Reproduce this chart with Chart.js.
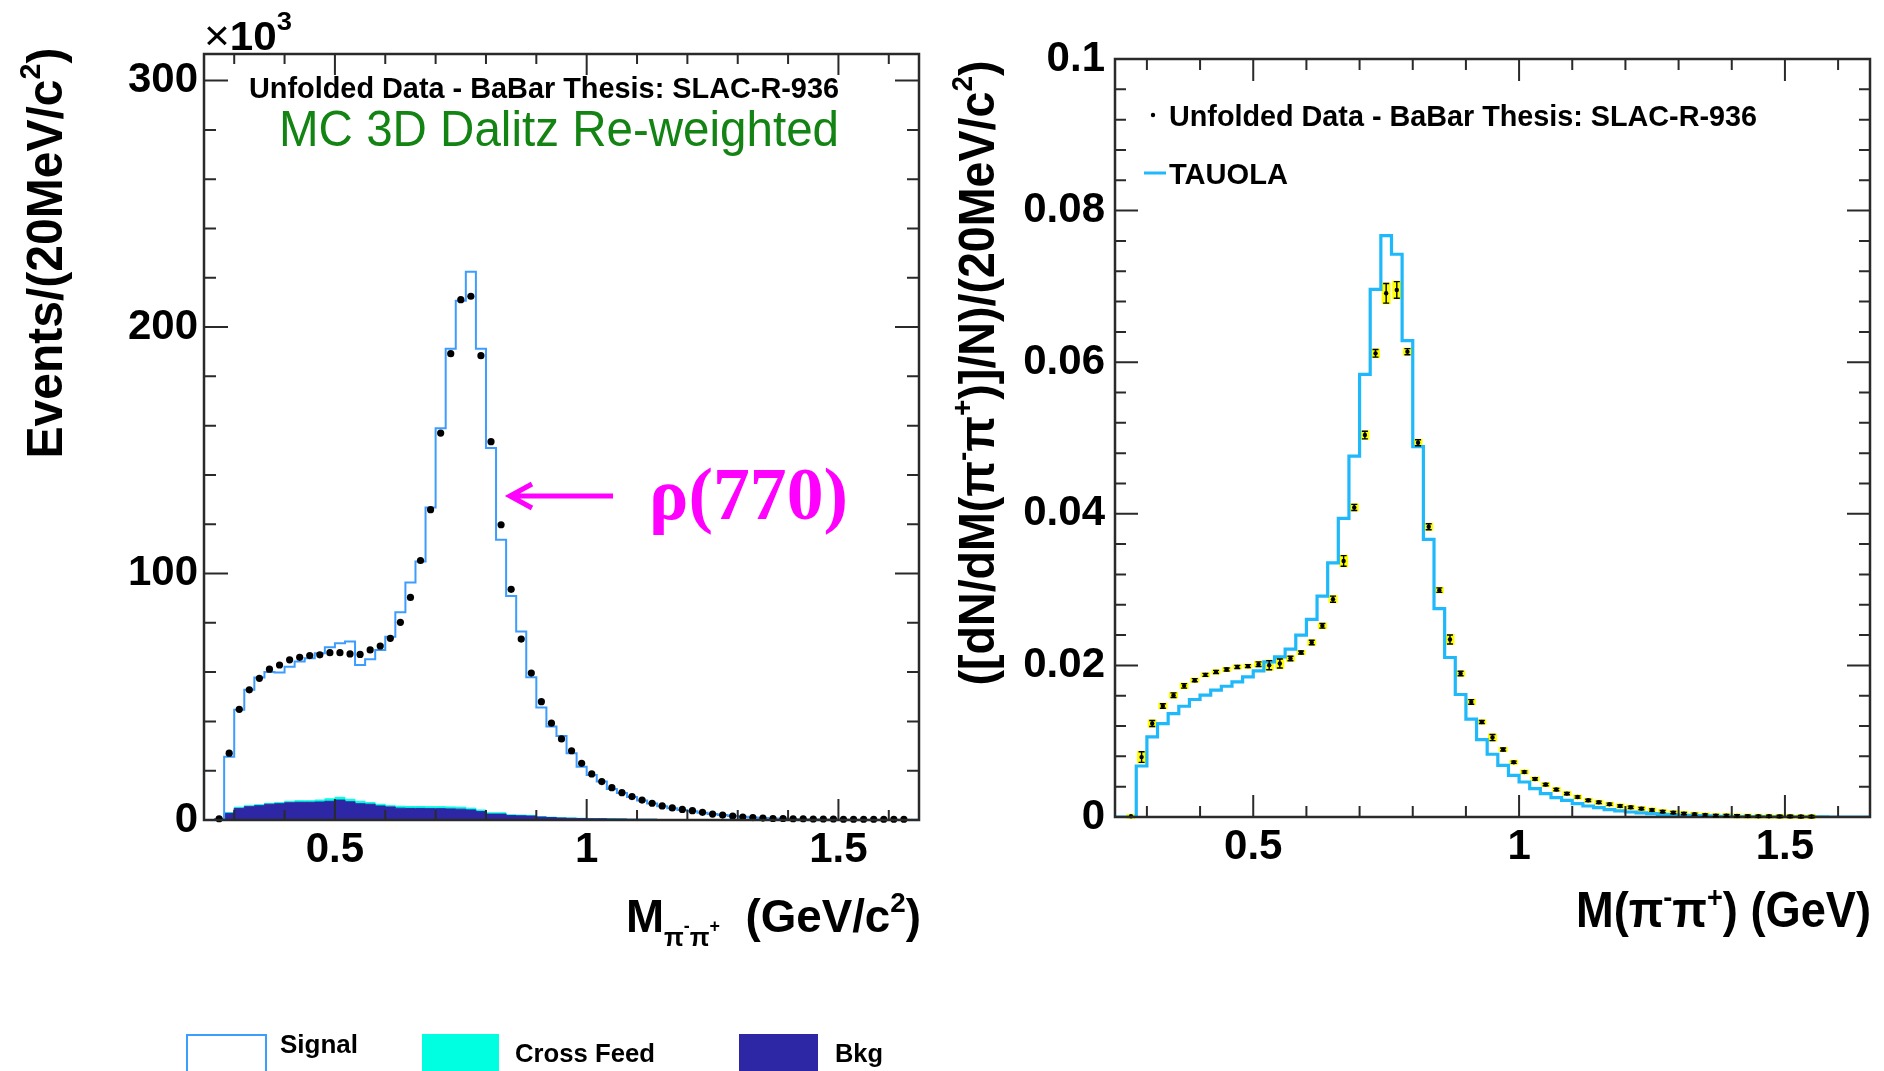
<!DOCTYPE html>
<html>
<head>
<meta charset="utf-8">
<title>M(pi- pi+) spectra</title>
<script src="https://cdn.jsdelivr.net/npm/chart.js@4.4.1/dist/chart.umd.min.js"></script>
<style>
  html, body { margin: 0; padding: 0; background: #fff; }
  body { width: 1884px; height: 1071px; position: relative; overflow: hidden; }
  canvas { position: absolute; top: 0; }
  #leftChart { left: 0; }
  #rightChart { left: 942px; }
</style>
</head>
<body>
<canvas id="leftChart" width="942" height="1071"></canvas>
<canvas id="rightChart" width="942" height="1071"></canvas>
<script>
// bin centres, GeV (20 MeV bins)
const massBins = [
  0.27, 0.29, 0.31, 0.33, 0.35, 0.37, 0.39, 0.41, 0.43, 0.45,
  0.47, 0.49, 0.51, 0.53, 0.55, 0.57, 0.59, 0.61, 0.63, 0.65,
  0.67, 0.69, 0.71, 0.73, 0.75, 0.77, 0.79, 0.81, 0.83, 0.85,
  0.87, 0.89, 0.91, 0.93, 0.95, 0.97, 0.99, 1.01, 1.03, 1.05,
  1.07, 1.09, 1.11, 1.13, 1.15, 1.17, 1.19, 1.21, 1.23, 1.25,
  1.27, 1.29, 1.31, 1.33, 1.35, 1.37, 1.39, 1.41, 1.43, 1.45,
  1.47, 1.49, 1.51, 1.53, 1.55, 1.57, 1.59, 1.61, 1.63
];
const binWidth = 0.02;

// left panel, events x10^3
const leftData = [
  0.5, 27.1, 44.9, 52.8, 57.5, 61.2, 62.9, 65.0, 66.0, 66.7,
  67.0, 67.9, 67.9, 67.4, 67.2, 69.0, 70.6, 73.7, 80.2, 90.3,
  105.3, 125.9, 157.0, 189.2, 211.1, 212.5, 188.4, 153.5, 119.8, 93.6,
  73.4, 59.6, 48.0, 39.3, 32.9, 28.1, 23.0, 18.7, 15.6, 13.1,
  11.1, 9.5, 8.1, 6.8, 5.7, 4.9, 4.3, 3.8, 3.1, 2.4,
  2.0, 1.6, 1.2, 1.0, 0.8, 0.6, 0.6, 0.5, 0.5, 0.4,
  0.4, 0.4, 0.3, 0.3, 0.3, 0.3, 0.3, 0.3, 0.3
];
const leftSignal = [
  0, 25.7, 44.7, 52.8, 57.8, 60.0, 59.8, 62.2, 64.3, 65.6,
  67.7, 70.1, 71.7, 72.4, 62.9, 65.2, 69.0, 74.4, 84.3, 96.4,
  104.9, 126.8, 159.0, 191.2, 210.7, 222.4, 191.2, 150.9, 113.7, 90.9,
  76.5, 57.9, 45.6, 37.9, 34.1, 27.1, 21.6, 18.3, 15.6, 12.6,
  11.0, 9.3, 7.9, 6.7, 5.6, 4.8, 4.1, 3.5, 2.9, 2.4,
  2.0, 1.6, 1.3, 1.0, 0.8, 0.6, 0.5, 0.4, 0.3, 0.3,
  0.2, 0.2, 0.2, 0.1, 0.1, 0.1, 0.1, 0.1, 0.1
];
const leftBkg = [
  0.4, 2.7, 4.7, 5.4, 5.8, 6.4, 6.6, 7.0, 7.2, 7.2,
  7.3, 7.6, 8.1, 7.4, 6.6, 6.4, 5.7, 5.3, 4.8, 4.7,
  4.7, 4.6, 4.6, 4.5, 4.4, 4.1, 3.4, 2.4, 2.4, 1.8,
  1.7, 1.6, 1.2, 1.0, 0.8, 0.7, 0.6, 0.5, 0.5, 0.4,
  0.4, 0.3, 0.3, 0.3, 0.2, 0.2, 0.2, 0.2, 0.2, 0.2,
  0.1, 0.1, 0.1, 0.1, 0.1, 0.1, 0.1, 0.1, 0.1, 0.1,
  0.1, 0.1, 0.1, 0.1, 0.1, 0.1, 0.1, 0.1, 0.1
];
const leftCrossFeed = [
  0, 0.3, 0.45, 0.4, 0.4, 0.35, 0.45, 0.55, 0.6, 0.6,
  0.8, 1.0, 1.1, 1.0, 1.0, 0.65, 0.7, 0.5, 0.8, 0.8,
  0.8, 0.8, 0.8, 0.8, 0.8, 0.7, 0.65, 0.5, 0.5, 0.3,
  0.3, 0.3, 0.15, 0.15, 0.1, 0.1, 0.1, 0.1, 0.1, 0.1,
  0, 0, 0, 0, 0, 0, 0, 0, 0, 0,
  0, 0, 0, 0, 0, 0, 0, 0, 0, 0,
  0, 0, 0, 0, 0, 0, 0, 0, 0
];

// right panel, normalised
const rightData = [
  0.0001, 0.0079, 0.01233, 0.01465, 0.01607, 0.0173, 0.01805, 0.01875, 0.01914, 0.01946,
  0.0198, 0.0199, 0.02016, 0.02003, 0.02025, 0.02091, 0.0217, 0.02302, 0.02522, 0.02874,
  0.03378, 0.04084, 0.05039, 0.06117, 0.06909, 0.06953, 0.06139, 0.04937, 0.03829, 0.02993,
  0.02342, 0.01893, 0.01518, 0.01254, 0.01048, 0.0089, 0.00722, 0.00594, 0.00502, 0.00428,
  0.00362, 0.00309, 0.00264, 0.0022, 0.00194, 0.00168, 0.00145, 0.00128, 0.00111, 0.00092,
  0.00071, 0.00058, 0.00045, 0.00036, 0.00026, 0.00018, 0.00018, 0.00014, 0.00012, 0.0001,
  0.0001, 0.00008, 0.00008, 0.00006, 0.00006
];
const rightErr = [
  0.0001, 0.0007, 0.0004, 0.0003, 0.0003, 0.0003, 0.0002, 0.0002, 0.0002, 0.0002,
  0.0002, 0.0002, 0.0003, 0.0006, 0.0006, 0.0003, 0.0002, 0.0003, 0.0003, 0.0004,
  0.0007, 0.0004, 0.0005, 0.0005, 0.0013, 0.0011, 0.0004, 0.0004, 0.0004, 0.0003,
  0.0006, 0.0003, 0.0003, 0.0002, 0.0004, 0.0002, 0.00015, 0.00015, 0.00015, 0.00015,
  0.00015, 0.00015, 0.00015, 0.00015, 0.00015, 0.00015, 0.00015, 0.00015, 0.00015, 0.00015,
  0.00015, 0.00015, 0.00015, 0.00015, 0.00015, 0.00015, 0.00015, 0.00015, 0.00015, 0.00015,
  0.00015, 0.00015, 0.00015, 0.00015, 0.00015
];
const tauola = [
  0, 0.00673, 0.01056, 0.01233, 0.01365, 0.01461, 0.0155, 0.01607, 0.01673, 0.01725,
  0.01782, 0.01848, 0.01928, 0.02046, 0.02112, 0.02214, 0.02399, 0.02606, 0.02913, 0.03353,
  0.0394, 0.04762, 0.0584, 0.06962, 0.0767, 0.07424, 0.06284, 0.04885, 0.03662, 0.0275,
  0.02104, 0.01616, 0.0129, 0.01021, 0.00828, 0.00682, 0.0055, 0.00462, 0.00374, 0.00308,
  0.00255, 0.0022, 0.00176, 0.00145, 0.00123, 0.00097, 0.0008, 0.00066, 0.00055, 0.00045,
  0.00035, 0.00028, 0.00022, 0.00018, 0.00014, 0.0001, 0.00008, 0.00006, 0.00005, 0.00004,
  0.00003, 0.00002, 0.00002, 0.00001, 0.00001, 0.00001, 0, 0, 0
];

const xTickLabels = [0.5, 1, 1.5];
const leftYTickLabels = [0, 100, 200, 300];
const rightYTickLabels = [0, 0.02, 0.04, 0.06, 0.08, 0.1];

const FONT = "'Liberation Sans', Arial, Helvetica, sans-serif";
const SERIF = "'Liberation Serif', 'Times New Roman', serif";
const bold = s => `bold ${s}px ${FONT}`;
const norm = s => `${s}px ${FONT}`;

const SIGNAL_COLOR = '#3d9dff';
const TAUOLA_COLOR = '#1fb8fa';
const CROSS_COLOR = '#00ffe1';
const BKG_COLOR = '#2d27a6';

// histogram outline: one point per bin low edge, then the last high edge
function stepPoints(values, lo, hi) {
  const pts = [{x: lo, y: 0}];
  values.forEach((v, i) => pts.push({x: massBins[i] - binWidth / 2, y: v}));
  pts.push({x: hi, y: values[values.length - 1]});
  return pts;
}

// text made of runs [text, font, dy], stretched to a given width
function drawRuns(ctx, runs, x, y, opt) {
  ctx.save();
  let total = 0;
  runs.forEach(r => { ctx.font = r[1]; total += ctx.measureText(r[0]).width; });
  const sx = opt.width ? opt.width / total : 1;
  ctx.translate(x, y);
  if (opt.rotate) ctx.rotate(opt.rotate);
  ctx.scale(sx, 1);
  let cx = opt.align === 'right' ? -total : (opt.align === 'center' ? -total / 2 : 0);
  ctx.fillStyle = opt.color || '#000';
  ctx.textAlign = 'left';
  ctx.textBaseline = 'alphabetic';
  runs.forEach(r => {
    ctx.font = r[1];
    ctx.fillText(r[0], cx, r[2] || 0);
    cx += ctx.measureText(r[0]).width;
  });
  ctx.restore();
}

// ROOT-like frame with inward ticks on all four sides
const rootFrame = {
  id: 'rootFrame',
  afterDatasetsDraw(chart, args, o) {
    const {ctx, chartArea: a, scales: {x, y}} = chart;
    const eps = 1e-6;
    ctx.save();
    ctx.strokeStyle = '#2a2a2a';
    ctx.lineWidth = 2;
    ctx.beginPath();
    for (let k = Math.ceil(x.min / o.xMinor - eps); k * o.xMinor <= x.max + eps; k++) {
      const v = k * o.xMinor;
      const major = Math.abs(v / o.xMajor - Math.round(v / o.xMajor)) < eps;
      const len = major ? o.xLong : o.xShort;
      const px = x.getPixelForValue(v);
      ctx.moveTo(px, a.bottom); ctx.lineTo(px, a.bottom - len);
      ctx.moveTo(px, a.top); ctx.lineTo(px, a.top + len);
    }
    for (let k = Math.ceil(y.min / o.yMinor - eps); k * o.yMinor <= y.max + eps; k++) {
      const v = k * o.yMinor;
      const major = Math.abs(v / o.yMajor - Math.round(v / o.yMajor)) < eps;
      const len = major ? o.yLong : o.yShort;
      const py = y.getPixelForValue(v);
      ctx.moveTo(a.left, py); ctx.lineTo(a.left + len, py);
      ctx.moveTo(a.right, py); ctx.lineTo(a.right - len, py);
    }
    ctx.stroke();
    ctx.lineWidth = 2.5;
    ctx.strokeRect(a.left, a.top, a.right - a.left, a.bottom - a.top);
    ctx.restore();
  }
};
Chart.register(rootFrame);

function axisOptions(yMax, yTicks, yFmt, yPad) {
  return {
    x: {
      type: 'linear', min: 0.24, max: 1.66,
      grid: {display: false, drawTicks: false}, border: {display: false},
      afterFit: s => { s.height = 60; },
      afterBuildTicks: s => { s.ticks = xTickLabels.map(v => ({value: v})); },
      ticks: {font: {family: FONT, size: 42, weight: 'bold'}, color: '#000', padding: 5,
        maxRotation: 0, autoSkip: false, callback: v => String(v)}
    },
    y: {
      type: 'linear', min: 0, max: yMax,
      grid: {display: false, drawTicks: false}, border: {display: false},
      afterFit: s => { s.width = 120; },
      afterBuildTicks: s => { s.ticks = yTicks.map(v => ({value: v})); },
      ticks: {font: {family: FONT, size: 42, weight: 'bold'}, color: '#000', padding: yPad,
        autoSkip: false, callback: yFmt}
    }
  };
}

// left panel texts
const leftTexts = {
  id: 'leftTexts',
  afterDraw(chart) {
    const ctx = chart.ctx;
    drawRuns(ctx, [['×', norm(42)], ['10', bold(40)], ['3', bold(26), -20]], 204, 50, {width: 88});
    drawRuns(ctx, [['Unfolded Data - BaBar Thesis: SLAC-R-936', bold(30)]], 249, 98, {width: 590});
    drawRuns(ctx, [['MC 3D Dalitz Re-weighted', norm(50)]], 279, 146, {width: 560, color: '#138313'});
    drawRuns(ctx, [['ρ(770)', `bold 74px ${SERIF}`]], 649, 519, {width: 199, color: '#ff00ff'});
    // arrow to the peak
    ctx.save();
    ctx.strokeStyle = '#ff00ff';
    ctx.lineWidth = 5;
    ctx.beginPath();
    ctx.moveTo(613, 496); ctx.lineTo(511, 496);
    ctx.moveTo(532, 484); ctx.lineTo(510, 496); ctx.lineTo(532, 508);
    ctx.stroke();
    ctx.restore();
    drawRuns(ctx, [['Events/(20MeV/c', bold(50)], ['2', bold(30), -22], [')', bold(50)]],
      62, 253, {rotate: -Math.PI / 2, align: 'center', width: 411});
    drawRuns(ctx, [['M', bold(46)], ['π', bold(26), 14], ['-', bold(18), 0], ['π', bold(26), 14],
      ['+', bold(18), 0], ['  (GeV/c', bold(46)], ['2', bold(28), -20], [')', bold(46)]],
      921, 932, {align: 'right', width: 295});
    // legend under the plot
    ctx.save();
    ctx.strokeStyle = SIGNAL_COLOR;
    ctx.lineWidth = 2;
    ctx.strokeRect(187, 1035, 79, 45);
    ctx.fillStyle = CROSS_COLOR;
    ctx.fillRect(422, 1034, 77, 40);
    ctx.fillStyle = BKG_COLOR;
    ctx.fillRect(739, 1034, 79, 40);
    ctx.restore();
    drawRuns(ctx, [['Signal', bold(26)]], 280, 1053, {width: 78});
    drawRuns(ctx, [['Cross Feed', bold(26)]], 515, 1062, {width: 140});
    drawRuns(ctx, [['Bkg', bold(26)]], 835, 1062, {width: 48});
  }
};

new Chart(document.getElementById('leftChart'), {
  type: 'line',
  data: {
    datasets: [{
      label: 'Unfolded Data',
      data: massBins.map((m, i) => ({x: m, y: leftData[i]})),
      showLine: false, pointRadius: 3.6, pointBorderWidth: 0,
      pointBackgroundColor: '#000', clip: 8
    }, {
      label: 'Signal',
      data: stepPoints(leftSignal, 0.24, 1.66),
      stepped: true, borderColor: SIGNAL_COLOR, borderWidth: 2, pointRadius: 0, fill: false
    }, {
      label: 'Bkg',
      data: stepPoints(leftBkg, 0.24, 1.66),
      stepped: true, borderColor: BKG_COLOR, borderWidth: 1, pointRadius: 0,
      backgroundColor: BKG_COLOR, fill: 'origin'
    }, {
      label: 'Cross Feed',
      data: stepPoints(leftBkg.map((v, i) => v + leftCrossFeed[i]), 0.24, 1.66),
      stepped: true, borderColor: CROSS_COLOR, borderWidth: 1, pointRadius: 0,
      backgroundColor: CROSS_COLOR, fill: '-1'
    }]
  },
  options: {
    responsive: false, animation: false, events: [], devicePixelRatio: 1,
    layout: {padding: {left: 84, right: 23, top: 54, bottom: 191}},
    plugins: {
      legend: {display: false}, tooltip: {enabled: false},
      rootFrame: {xMinor: 0.1, xMajor: 0.5, xLong: 21, xShort: 10,
        yMinor: 20, yMajor: 100, yLong: 24, yShort: 12}
    },
    scales: axisOptions(310.8, leftYTickLabels, v => String(v), 6)
  },
  plugins: [leftTexts]
});

// right panel: error boxes, bars and texts
const rightExtras = {
  id: 'rightExtras',
  beforeDatasetsDraw(chart) {
    const {ctx, scales: {x, y}} = chart;
    ctx.save();
    ctx.fillStyle = '#ffff00';
    rightData.forEach((v, i) => {
      const px = x.getPixelForValue(massBins[i]);
      const top = y.getPixelForValue(v + rightErr[i]);
      const bot = y.getPixelForValue(v - rightErr[i]);
      const h = Math.max(bot - top, 3);
      const cy = (top + bot) / 2;
      ctx.fillRect(px - 4.5, cy - h / 2 - 1, 9, h + 2);
    });
    ctx.restore();
  },
  afterDatasetsDraw(chart) {
    const {ctx, scales: {x, y}} = chart;
    ctx.save();
    ctx.strokeStyle = '#000';
    ctx.lineWidth = 1.4;
    ctx.beginPath();
    rightData.forEach((v, i) => {
      const px = x.getPixelForValue(massBins[i]);
      const top = y.getPixelForValue(v + rightErr[i]);
      const bot = y.getPixelForValue(v - rightErr[i]);
      if (bot - top < 2) return;
      ctx.moveTo(px, top); ctx.lineTo(px, bot);
      ctx.moveTo(px - 3, top); ctx.lineTo(px + 3, top);
      ctx.moveTo(px - 3, bot); ctx.lineTo(px + 3, bot);
    });
    ctx.stroke();
    ctx.restore();
  },
  afterDraw(chart) {
    const ctx = chart.ctx;
    ctx.save();
    ctx.fillStyle = '#000';
    ctx.beginPath();
    ctx.arc(211, 115, 2.2, 0, Math.PI * 2);
    ctx.fill();
    ctx.strokeStyle = TAUOLA_COLOR;
    ctx.lineWidth = 3;
    ctx.beginPath();
    ctx.moveTo(202, 173); ctx.lineTo(224, 173);
    ctx.stroke();
    ctx.restore();
    drawRuns(ctx, [['Unfolded Data - BaBar Thesis: SLAC-R-936', bold(30)]], 227, 126, {width: 588});
    drawRuns(ctx, [['TAUOLA', bold(30)]], 227, 184, {width: 119});
    drawRuns(ctx, [['([dN/dM(', bold(50)], ['π', bold(50)], ['-', bold(30), -22], ['π', bold(50)],
      ['+', bold(30), -22], [')]/N)/(20MeV/c', bold(50)], ['2', bold(30), -22], [')', bold(50)]],
      52, 373, {rotate: -Math.PI / 2, align: 'center', width: 625});
    drawRuns(ctx, [['M(π', bold(50)], ['-', bold(30), -20], ['π', bold(50)], ['+', bold(30), -20],
      [') (GeV)', bold(50)]], 929, 927, {align: 'right', width: 295});
  }
};

new Chart(document.getElementById('rightChart'), {
  type: 'line',
  data: {
    datasets: [{
      label: 'Unfolded Data - BaBar Thesis: SLAC-R-936',
      data: rightData.map((v, i) => ({x: massBins[i], y: v})),
      showLine: false, pointRadius: 2.2, pointBorderWidth: 0,
      pointBackgroundColor: '#000', clip: 8
    }, {
      label: 'TAUOLA',
      data: stepPoints(tauola, 0.24, 1.66),
      stepped: true, borderColor: TAUOLA_COLOR, borderWidth: 3.2, pointRadius: 0, fill: false
    }]
  },
  options: {
    responsive: false, animation: false, events: [], devicePixelRatio: 1,
    layout: {padding: {left: 53, right: 14, top: 59, bottom: 194}},
    plugins: {
      legend: {display: false}, tooltip: {enabled: false},
      rootFrame: {xMinor: 0.1, xMajor: 0.5, xLong: 22, xShort: 11,
        yMinor: 0.004, yMajor: 0.02, yLong: 23, yShort: 11}
    },
    scales: axisOptions(0.1, rightYTickLabels, v => String(Math.round(v * 100) / 100), 10)
  },
  plugins: [rightExtras]
});
</script>
</body>
</html>
